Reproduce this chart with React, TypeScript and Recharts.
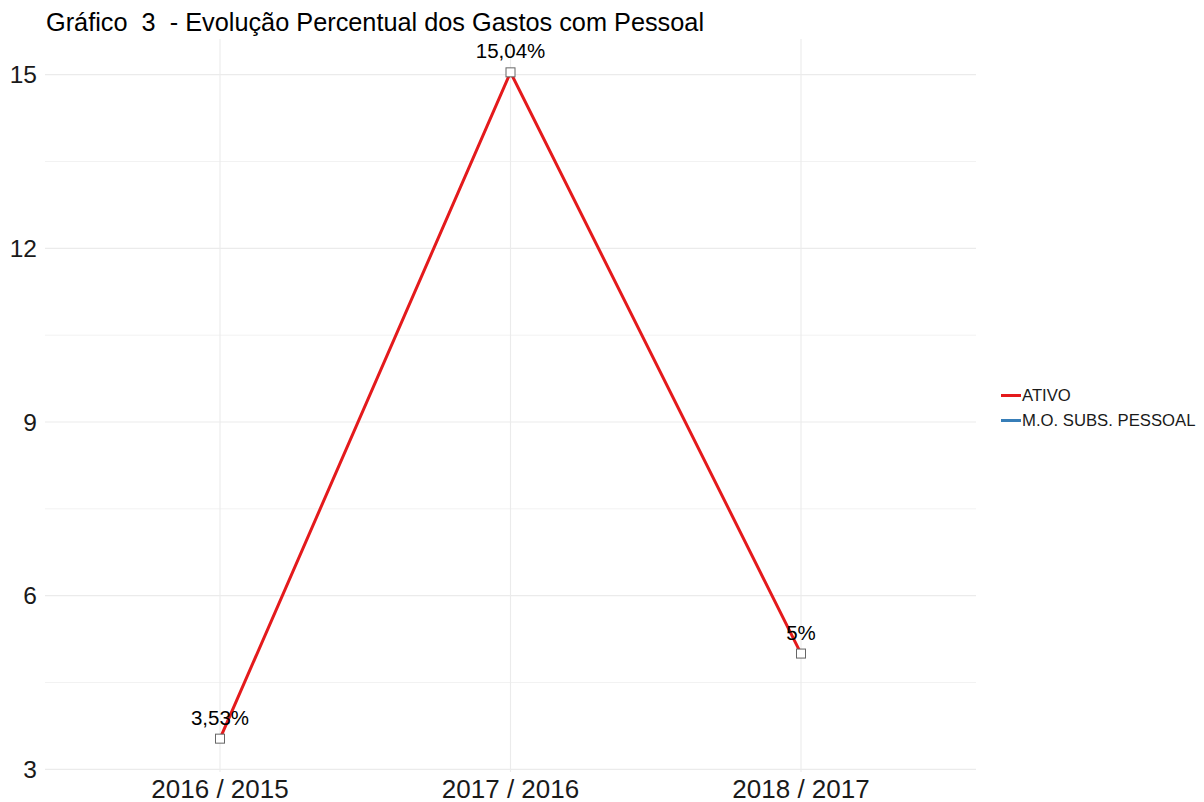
import React from 'react';
import { LineChart, Line, XAxis, YAxis, CartesianGrid, ReferenceLine, LabelList, Legend } from 'recharts';

const categories = ['2016 / 2015', '2017 / 2016', '2018 / 2017'];
const ativo = [3.53, 15.04, 5];
const moSubsPessoal: (number | null)[] = [null, null, null];
const yTicks = [3, 6, 9, 12, 15];
const yMinorTicks = [4.5, 7.5, 10.5, 13.5];
const seriesNames = ['ATIVO', 'M.O. SUBS. PESSOAL'];
const seriesColors = ['#E41A1C', '#377EB8'];
const title = 'Gráfico  3  - Evolução Percentual dos Gastos com Pessoal';

const data = categories.map((c, i) => ({ cat: c, ativo: ativo[i], mo: moSubsPessoal[i] }));

const FONT = '"Liberation Sans", Arial, Helvetica, sans-serif';

const SquareDot = (props: any) => {
  const { cx, cy, index } = props;
  if (cx == null || cy == null) return <g key={`d-${index}`} />;
  return <rect key={`d-${index}`} x={cx - 4.5} y={cy - 4.5} width={9} height={9} fill="#ffffff" stroke="#666666" strokeWidth={1} />;
};

const fmt = (v: any) => (v == null ? '' : `${String(v).replace('.', ',')}%`);

const LegendContent = () => (
  <div style={{ fontFamily: FONT, fontSize: 16.7, color: '#1a1a1a' }}>
    {seriesNames.map((n, i) => (
      <div key={n} style={{ display: 'flex', alignItems: 'center', height: 25 }}>
        <div style={{ width: 20, height: 3, background: seriesColors[i], marginRight: 1 }} />
        <span>{n}</span>
      </div>
    ))}
  </div>
);

export default function App() {
  return (
    <div style={{ position: 'absolute', left: 0, top: 0, width: 1204, height: 802, background: '#fff' }}>
      <div style={{ position: 'absolute', left: 46, top: 8, fontFamily: FONT, fontSize: 25.3, whiteSpace: 'pre', color: '#000', lineHeight: 'normal' }}>
        {title}
      </div>
      <LineChart width={1204} height={802} data={data} margin={{ top: 39, right: 228, bottom: 0, left: 0 }}>
        <CartesianGrid stroke="#EBEBEB" strokeWidth={1.1} horizontalValues={yTicks} vertical={false} />
        {yMinorTicks.map((v) => (
          <ReferenceLine key={`m-${v}`} y={v} stroke="#F2F2F2" strokeWidth={1} />
        ))}
        {categories.map((c) => (
          <ReferenceLine key={`v-${c}`} x={c} stroke="#EBEBEB" strokeWidth={1.1} />
        ))}
        <XAxis
          dataKey="cat"
          padding={{ left: 175, right: 175 }}
          axisLine={false}
          tickLine={false}
          tickSize={6}
          tickMargin={2}
          height={30}
          interval={0}
          tick={{ fontFamily: FONT, fontSize: 26, fill: '#1a1a1a' }}
        />
        <YAxis
          type="number"
          domain={[2.954, 15.616]}
          ticks={yTicks}
          allowDataOverflow
          axisLine={false}
          tickLine={false}
          tickSize={6}
          tickMargin={2}
          width={45}
          tick={{ fontFamily: FONT, fontSize: 24.5, fill: '#1a1a1a' }}
        />
        <Legend
          layout="horizontal"
          align="center"
          verticalAlign="middle"
          content={<LegendContent />}
          wrapperStyle={{ left: 1001, top: 383, width: 'auto', height: 'auto' }}
        />
        <Line
          name={seriesNames[1]}
          dataKey="mo"
          stroke={seriesColors[1]}
          strokeWidth={3}
          dot={false}
          activeDot={false}
          isAnimationActive={false}
        />
        <Line
          name={seriesNames[0]}
          dataKey="ativo"
          stroke={seriesColors[0]}
          strokeWidth={3}
          dot={<SquareDot />}
          activeDot={false}
          isAnimationActive={false}
        >
          <LabelList
            dataKey="ativo"
            position="top"
            offset={14}
            formatter={fmt}
            style={{ fontFamily: FONT, fontSize: 20.5, fill: '#000' }}
          />
        </Line>
      </LineChart>
    </div>
  );
}
